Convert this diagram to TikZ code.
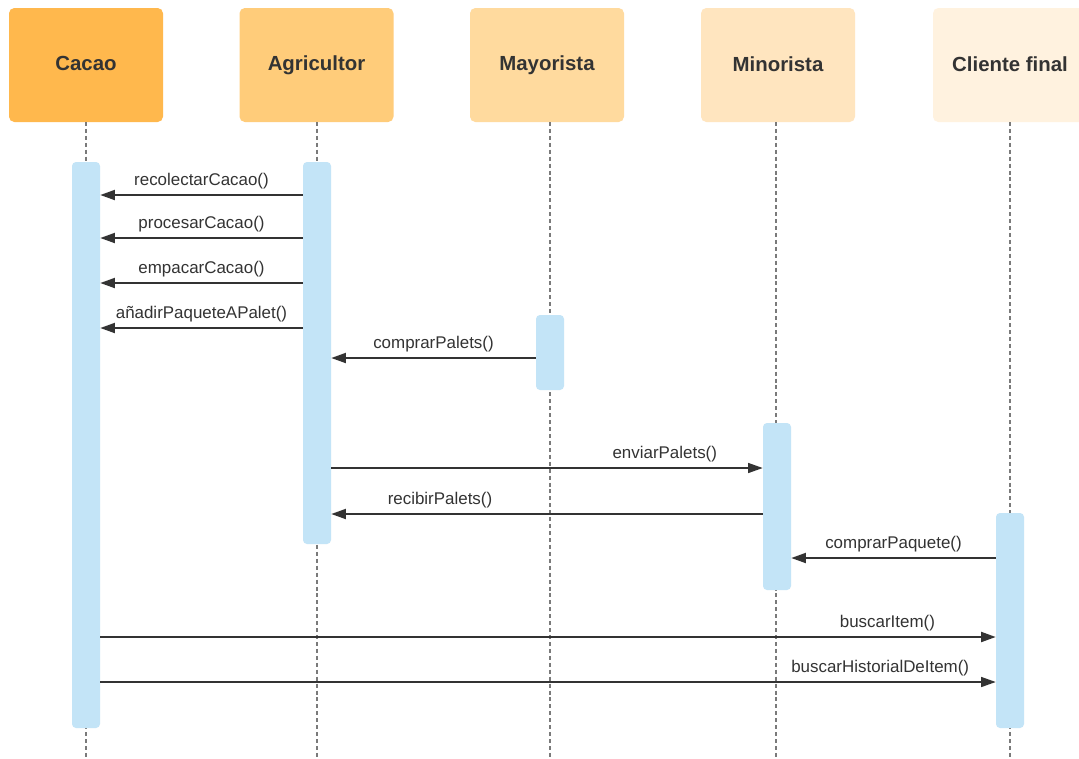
\documentclass[tikz,border=0pt]{standalone}
\usepackage{fontspec}
\setmainfont{Liberation Sans}
\usetikzlibrary{arrows.meta}
\definecolor{hA}{HTML}{FFB84D}
\definecolor{hB}{HTML}{FFCC7A}
\definecolor{hC}{HTML}{FFDA9E}
\definecolor{hD}{HTML}{FFE5BF}
\definecolor{hE}{HTML}{FFF2DF}
\definecolor{barc}{HTML}{C3E4F7}
\definecolor{ink}{HTML}{333333}
\definecolor{lifec}{HTML}{7A7A7A}
\tikzset{
  header/.style={fill=#1, draw=none, rounded corners=4pt, minimum width=115.5pt, minimum height=85.5pt, inner sep=0pt, text=ink, font=\bfseries\fontsize{15.3}{17}\selectfont},
  actbar/.style={fill=barc, draw=none, rounded corners=3pt, minimum width=21pt, inner sep=0pt},
  lifeline/.style={draw=lifec, line width=0.9pt, dash pattern=on 3pt off 2.2pt},
  msg/.style={draw=ink, line width=1.4pt, -{Triangle[length=11pt,width=7.5pt]}},
  lbl/.style={anchor=base, yshift=6.8pt, text=ink, font=\fontsize{12.7}{14}\selectfont, inner sep=0pt}
}
\begin{document}
\begin{tikzpicture}[x=0.75pt,y=-0.75pt]
\clip (0,0) rectangle (1079,758);
\fill[white] (0,0) rectangle (1079,758);
% headers
\node[header=hA] (hcac) at (86,65) {\raisebox{3pt}{Cacao}};
\node[header=hB] (hagr) at (316.5,65) {\raisebox{3pt}{Agricultor}};
\node[header=hC] (hmay) at (547,65) {\raisebox{3pt}{Mayorista}};
\node[header=hD] (hmin) at (778,65) {\raisebox{2pt}{Minorista}};
\node[header=hE] (hcli) at (1010,65) {\raisebox{2pt}{Cliente final}};
% lifeline ends
\coordinate (ecac) at (86,758);
\coordinate (eagr) at (317,758);
\coordinate (emay) at (550,758);
\coordinate (emin) at (776,758);
\coordinate (ecli) at (1010,758);
\coordinate (scac) at (86,122);
\coordinate (sagr) at (317,122);
\coordinate (smay) at (550,122);
\coordinate (smin) at (776,122);
\coordinate (scli) at (1010,122);
\draw[lifeline] (scac) -- (ecac);
\draw[lifeline] (sagr) -- (eagr);
\draw[lifeline] (smay) -- (emay);
\draw[lifeline] (smin) -- (emin);
\draw[lifeline] (scli) -- (ecli);
% activation bars
\node[actbar, minimum height=424.5pt] (bcac) at (86,445) {};
\node[actbar, minimum height=286.5pt] (bagr) at (317,353) {};
\node[actbar, minimum height=56.25pt] (bmay) at (550,352.5) {};
\node[actbar, minimum height=125.25pt] (bmin) at (777,506.5) {};
\node[actbar, minimum height=161.25pt] (bcli) at (1010,620.5) {};
% message rows
\coordinate (y1) at (0,195);
\coordinate (y2) at (0,238);
\coordinate (y3) at (0,283);
\coordinate (y4) at (0,328);
\coordinate (y5) at (0,358);
\coordinate (y6) at (0,468);
\coordinate (y7) at (0,514);
\coordinate (y8) at (0,558);
\coordinate (y9) at (0,637);
\coordinate (y10) at (0,682);
\draw[msg] (bagr.west |- y1) -- node[lbl, pos=0.5] {recolectarCacao()} (bcac.east |- y1);
\draw[msg] (bagr.west |- y2) -- node[lbl, pos=0.5] {procesarCacao()} (bcac.east |- y2);
\draw[msg] (bagr.west |- y3) -- node[lbl, pos=0.5] {empacarCacao()} (bcac.east |- y3);
\draw[msg] (bagr.west |- y4) -- node[lbl, pos=0.5] {añadirPaqueteAPalet()} (bcac.east |- y4);
\draw[msg] (bmay.west |- y5) -- node[lbl, pos=0.5] {comprarPalets()} (bagr.east |- y5);
\draw[msg, line width=1.15pt] (bagr.east |- y6) -- node[lbl, pos=0.773] {enviarPalets()} (bmin.west |- y6);
\draw[msg] (bmin.west |- y7) -- node[lbl, pos=0.748] {recibirPalets()} (bagr.east |- y7);
\draw[msg] (bcli.west |- y8) -- node[lbl, pos=0.5] {comprarPaquete()} (bmin.east |- y8);
\draw[msg, line width=1.5pt] (bcac.east |- y9) -- node[lbl, pos=0.879] {buscarItem()} (bcli.west |- y9);
\draw[msg, line width=1.15pt] (bcac.east |- y10) -- node[lbl, pos=0.871] {buscarHistorialDeItem()} (bcli.west |- y10);
\end{tikzpicture}
\end{document}
